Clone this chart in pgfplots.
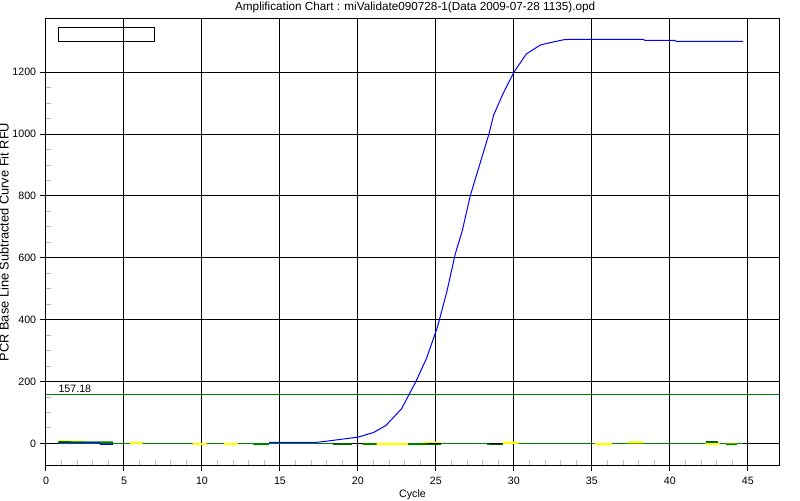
\documentclass[border=0pt]{standalone}
\usepackage{fontspec}
\setmainfont{Liberation Sans}
\usepackage{pgfplots}
\pgfplotsset{compat=1.18}
\definecolor{thr}{RGB}{0,128,0}
\definecolor{dkg}{RGB}{0,100,0}
\definecolor{ylw}{RGB}{255,255,0}
\begin{document}
\fontsize{8}{10}\selectfont
\begin{tikzpicture}
\begin{axis}[
  scale only axis, width=549.75pt, height=334.5pt,
  xmin=0, xmax=47, ymin=-70, ymax=1372,
  xtick={0,5,...,45}, ytick={0,200,...,1200},
  minor x tick num=4, minor y tick num=3,
  tick align=outside, major tick length=4.5pt, minor tick length=-3.5pt,
  minor tick style={gray!55, line width=0.6pt},
  major tick style={black, line width=0.75pt},
  xtick pos=left, ytick pos=left,
  grid=major, major grid style={black, line width=0.75pt},
  axis line style={black, line width=0.75pt},
  /pgf/number format/assume math mode=true,
  /pgf/number format/1000 sep={},
  ticklabel style={font=\fontsize{8}{10}\selectfont},
  xticklabel style={yshift=-1.5pt},
  title={Amplification Chart : miValidate090728-1(Data 2009-07-28 1135).opd},
  title style={font=\fontsize{8.8}{10}\selectfont, at={(0.5,1)}, anchor=south, inner sep=0pt, yshift=-2pt, xshift=2pt},
  xlabel={Cycle},
  xlabel style={font=\fontsize{8}{10}\selectfont, inner sep=0pt, yshift=-1pt},
  ylabel={PCR Base Line Subtracted Curve Fit RFU},
  ylabel style={font=\fontsize{9.6}{11}\selectfont, inner sep=0pt},
  clip=true,
]
% zero baseline (green)
\addplot[thr, line width=0.75pt] coordinates {(0.8,0) (44.7,0)};
% threshold
\addplot[thr, line width=0.75pt] coordinates {(0,157.18) (47,157.18)};
% small baseline segments
\addplot[ylw, line width=1.6pt, unbounded coords=jump] coordinates {
 (0.8,7) (1.6,6) (2.4,5) (2.4,nan)
 (5.4,1) (6.2,1) (6.2,nan)
 (9.4,-2) (10.3,-2) (10.3,nan)
 (11.4,-2) (12.3,-2) (12.3,nan)
 (20.3,-2) (22.7,-2) (23.2,-2) (23.2,nan)
 (24.2,2) (25.3,2) (25.3,nan)
 (29.3,2) (30.3,2) (30.3,nan)
 (35.2,-3) (36.3,-3) (36.3,nan)
 (37.3,3) (38.3,3) (38.3,nan)
 (42.3,-2) (43.2,-2) (43.2,nan)
 (43.6,-2) (44.3,-2)
};
\addplot[thr, line width=1.4pt, unbounded coords=jump] coordinates {
 (0.8,4) (4.3,3) (4.3,nan)
 (13.3,-3) (14.3,-3) (14.3,nan)
 (20.3,-2) (21.2,-2) (21.2,nan)
 (23.2,-3) (24.2,-3) (24.2,nan)
 (43.6,-3) (44.3,-3)
};
\addplot[dkg, line width=1.6pt, unbounded coords=jump] coordinates {
 (18.4,-2) (19.6,-2) (19.6,nan)
 (24.2,-1) (25.3,-1) (25.3,nan)
 (28.3,-2) (29.3,-2) (29.3,nan)
 (42.3,3) (43.1,3)
};
\addplot[black, line width=1.2pt, unbounded coords=jump] coordinates {
 (19.6,-1) (20.3,-1) (20.3,nan)
 (24.5,0) (25.3,0) (25.3,nan)
 (28.5,0) (29.2,0)
};
% blue amplification curve
\addplot[blue, line width=0.75pt] coordinates {
 (0.8,3) (3.4,2) (3.5,-3) (4.3,-3)
};
\addplot[blue, line width=0.75pt] coordinates {
 (14.3,3) (17.3,3) (18.0,7) (18.9,13) (20.0,20) (21.0,35) (21.8,58)
 (22.8,112) (23.7,198) (24.4,275) (25.1,376) (25.7,490) (26.25,614)
 (26.7,689) (27.2,800) (27.8,900) (28.4,1000) (28.7,1061) (29.3,1130)
 (30.0,1200) (30.8,1259) (31.7,1288) (32.1,1293) (33.2,1305) (33.6,1306)
 (38.3,1306) (38.4,1303) (40.3,1303) (40.4,1300) (44.7,1300)
};
\draw[black, line width=0.75pt] (axis cs:0.77,1343) rectangle (axis cs:6.93,1298);
\node[anchor=south west, inner sep=1pt, font=\fontsize{8}{10}\selectfont] at (axis cs:0.7,160) {157.18};
\end{axis}
\pgfresetboundingbox
\path[use as bounding box] (current axis.south west) ++(-34.5pt,-26.25pt) rectangle ++(600pt,375pt);
\end{tikzpicture}
\end{document}
